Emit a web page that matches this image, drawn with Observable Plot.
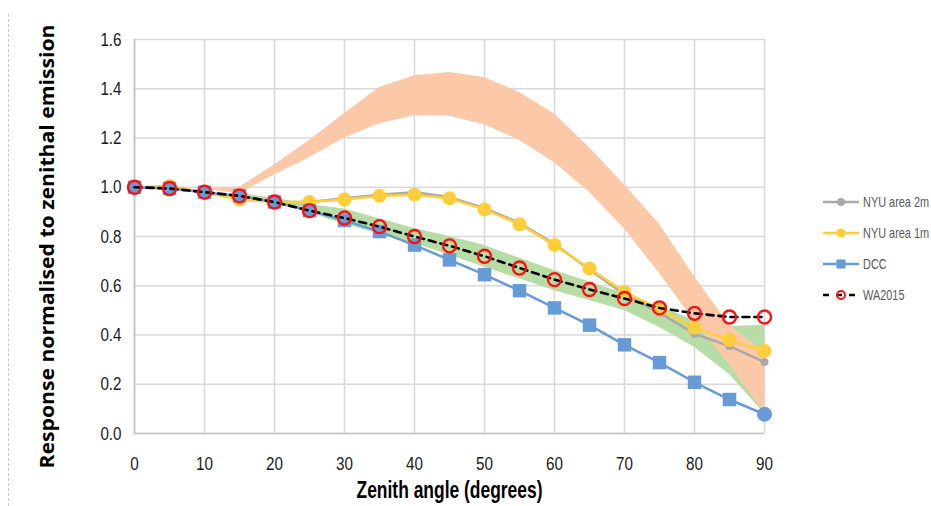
<!DOCTYPE html>
<html>
<head>
<meta charset="utf-8">
<script src="https://cdn.jsdelivr.net/npm/d3@7"></script>
<script src="https://cdn.jsdelivr.net/npm/@observablehq/plot@0.6"></script>
<style>
  html, body { margin: 0; padding: 0; background: #fff; }
  #wrap { position: relative; width: 931px; height: 506px; overflow: hidden; }
  #dash { position: absolute; left: 8px; top: 14px; bottom: 0; border-left: 1px dashed #c8c8c8; }
  #legend { position: absolute; left: 822px; top: 0; }
  .item { position: absolute; left: 0; height: 20px; width: 108px; }
  .item svg { position: absolute; left: 0; top: 0; }
</style>
</head>
<body>
<div id="wrap">
  <div id="chart"></div>
  <div id="dash"></div>
  <div id="legend"></div>
</div>
<script>
// ---- data ----
const angles = [0, 5, 10, 15, 20, 25, 30, 35, 40, 45, 50, 55, 60, 65, 70, 75, 80, 85, 90];
const nyu2m  = [1.0, 1.0, 0.98, 0.955, 0.94, 0.94, 0.955, 0.97, 0.98, 0.96, 0.915, 0.855, 0.77, 0.665, 0.565, 0.49, 0.405, 0.355, 0.29];
const nyu1m  = [1.0, 1.005, 0.98, 0.95, 0.94, 0.94, 0.95, 0.965, 0.97, 0.955, 0.91, 0.85, 0.765, 0.67, 0.575, 0.505, 0.43, 0.38, 0.335];
const dcc    = [1.0, 0.995, 0.98, 0.965, 0.94, 0.905, 0.865, 0.82, 0.765, 0.705, 0.645, 0.58, 0.51, 0.44, 0.36, 0.288, 0.208, 0.138, 0.078];
const wa2015 = [1.0, 0.995, 0.98, 0.965, 0.94, 0.905, 0.875, 0.84, 0.80, 0.762, 0.72, 0.672, 0.625, 0.585, 0.548, 0.51, 0.488, 0.473, 0.473];

const greenAngles = [15, 20, 25, 30, 35, 40, 45, 50, 55, 60, 65, 70, 75, 80, 85, 90];
const greenLow    = [0.96, 0.935, 0.895, 0.85, 0.81, 0.772, 0.725, 0.675, 0.628, 0.58, 0.54, 0.50, 0.43, 0.35, 0.24, 0.08];
const greenHigh   = [0.975, 0.955, 0.93, 0.912, 0.872, 0.832, 0.80, 0.763, 0.712, 0.662, 0.615, 0.568, 0.515, 0.46, 0.435, 0.44];

const orangeAngles = [10, 15, 20, 25, 30, 35, 40, 45, 50, 55, 60, 65, 70, 75, 80, 85, 90];
const orangeLow    = [0.99, 0.975, 1.05, 1.12, 1.2, 1.257, 1.29, 1.288, 1.254, 1.19, 1.10, 0.98, 0.83, 0.65, 0.455, 0.28, 0.08];
const orangeHigh   = [0.997, 1.0, 1.09, 1.19, 1.3, 1.405, 1.453, 1.466, 1.446, 1.385, 1.297, 1.16, 1.01, 0.85, 0.637, 0.44, 0.33];

const xTicks = [0, 10, 20, 30, 40, 50, 60, 70, 80, 90];
const yTicks = [0, 0.2, 0.4, 0.6, 0.8, 1.0, 1.2, 1.4, 1.6];

const seriesNames = ["NYU area 2m", "NYU area 1m", "DCC", "WA2015"];
const xTitle = "Zenith angle (degrees)";
const yTitle = "Response normalised to zenithal emission";

// ---- tables ----
const rows = (ys) => angles.map((a, i) => ({x: a, y: ys[i]}));
const g = greenAngles.map((a, i) => ({x: a, lo: greenLow[i], hi: greenHigh[i]}));
const o = orangeAngles.map((a, i) => ({x: a, lo: orangeLow[i], hi: orangeHigh[i]}));
const dccRows = rows(dcc);

const C = {gray: "#A9A9A9", gold: "#FFCE3A", blue: "#679BD6", red: "#FF1010", green: "#B7DDA6", orange: "#FCC9A8", grid: "#D9D9D9"};
const sans = "'Liberation Sans', Arial, sans-serif";

const chart = Plot.plot({
  width: 931, height: 506,
  marginLeft: 134, marginRight: 167, marginTop: 39, marginBottom: 73,
  style: {fontFamily: sans, fontSize: "19px", color: "#1a1a1a", background: "transparent"},
  x: {domain: [0, 90]},
  y: {domain: [0, 1.6]},
  marks: [
    Plot.gridX(xTicks, {stroke: C.grid, strokeOpacity: 1, strokeWidth: 1.6}),
    Plot.gridY(yTicks, {stroke: C.grid, strokeOpacity: 1, strokeWidth: 1.6}),
    Plot.ruleX([0], {stroke: "#C4C4C4", strokeWidth: 1.6}),
    Plot.ruleY([0], {stroke: "#C4C4C4", strokeWidth: 1.6}),
    Plot.areaY(g, {x: "x", y1: "lo", y2: "hi", fill: C.green}),
    Plot.areaY(o, {x: "x", y1: "lo", y2: "hi", fill: C.orange}),
    Plot.line(rows(nyu2m), {x: "x", y: "y", stroke: C.gray, strokeWidth: 2.5}),
    Plot.dot(rows(nyu2m), {x: "x", y: "y", r: 4, fill: C.gray}),
    Plot.line(rows(nyu1m), {x: "x", y: "y", stroke: C.gold, strokeWidth: 2.5}),
    Plot.dot(rows(nyu1m), {x: "x", y: "y", r: 7, fill: C.gold}),
    Plot.line(dccRows, {x: "x", y: "y", stroke: C.blue, strokeWidth: 2.5}),
    Plot.dot(dccRows.slice(0, -1), {x: "x", y: "y", symbol: "square", r: 7.6, fill: C.blue}),
    Plot.dot(dccRows.slice(-1), {x: "x", y: "y", r: 7.5, fill: C.blue}),
    Plot.line(rows(wa2015), {x: "x", y: "y", stroke: "#000", strokeWidth: 2.6, strokeDasharray: "7,5"}),
    Plot.dot(rows(wa2015), {x: "x", y: "y", r: 6.5, stroke: C.red, strokeWidth: 2.4, fill: "none"}),
    Plot.axisX(xTicks, {tickSize: 0, tickPadding: 23, label: null, tickFormat: d => d, className: "tickx"}),
    Plot.axisY(yTicks, {tickSize: 0, tickPadding: 13, label: null, tickFormat: d3.format(".1f"), className: "ticky"}),
    Plot.text([xTitle], {frameAnchor: "bottom", lineAnchor: "middle", textAnchor: "middle", dy: 57, fontSize: 23, fontWeight: "bold", fill: "#000", fontFamily: sans, className: "xtitle"}),
    Plot.text([yTitle], {frameAnchor: "left", lineAnchor: "middle", textAnchor: "middle", dx: -87, dy: 10, rotate: -90, fontSize: 19, fontWeight: "bold", fill: "#000", fontFamily: "'Open Sans', sans-serif", className: "ytitle"})
  ]
});
document.getElementById("chart").appendChild(chart);

// narrow (Calibri-like) rendering of the texts
chart.querySelectorAll(".tickx text, .ticky text").forEach(t => {
  const L = t.getComputedTextLength();
  t.setAttribute("textLength", (L * 0.8).toFixed(1));
  t.setAttribute("lengthAdjust", "spacingAndGlyphs");
});
chart.querySelectorAll(".xtitle text").forEach(t => {
  t.setAttribute("textLength", "186");
  t.setAttribute("lengthAdjust", "spacingAndGlyphs");
});
chart.querySelectorAll(".ytitle text").forEach(t => {
  t.setAttribute("textLength", "444");
  t.setAttribute("lengthAdjust", "spacingAndGlyphs");
});

// ---- legend ----
const legendY = [202, 233, 264, 295];
const legend = document.getElementById("legend");
seriesNames.forEach((name, i) => {
  const item = document.createElement("div");
  item.className = "item";
  item.style.top = (legendY[i] - 10) + "px";
  let svg = "";
  if (i === 0) svg = `<line x1="1" x2="37" y1="10" y2="10" stroke="${C.gray}" stroke-width="2.5"/><circle cx="19" cy="10" r="4" fill="${C.gray}"/>`;
  if (i === 1) svg = `<line x1="1" x2="37" y1="10" y2="10" stroke="${C.gold}" stroke-width="2.5"/><circle cx="19" cy="10" r="4.5" fill="${C.gold}"/>`;
  if (i === 2) svg = `<line x1="1" x2="37" y1="10" y2="10" stroke="${C.blue}" stroke-width="2.5"/><rect x="14.5" y="5.5" width="9" height="9" fill="${C.blue}"/>`;
  if (i === 3) svg = `<line x1="1" x2="37" y1="10" y2="10" stroke="#000" stroke-width="2.5" stroke-dasharray="6,7"/><circle cx="19" cy="10" r="4" fill="none" stroke="${C.red}" stroke-width="2"/>`;
  item.innerHTML = `<svg width="108" height="20">${svg}<text transform="translate(41,15) scale(0.78,1)" font-family="'Liberation Sans', Arial, sans-serif" font-size="14" fill="#595959">${name}</text></svg>`;
  legend.appendChild(item);
});
</script>
</body>
</html>
